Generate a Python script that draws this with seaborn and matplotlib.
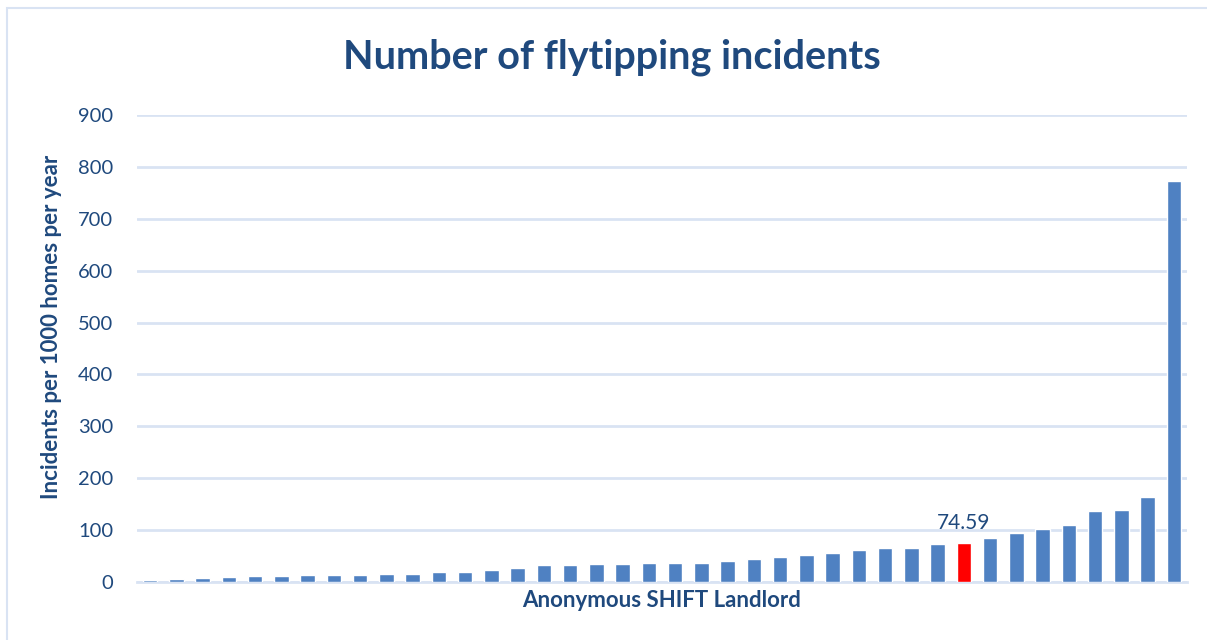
import pandas as pd
import matplotlib.pyplot as plt
import seaborn as sns
from matplotlib.patches import Rectangle

# Incidents per 1000 homes per year, one value per anonymous landlord (sorted)
landlords = [f"L{i + 1}" for i in range(40)]
incidents = [3.2, 5.1, 7.1, 9.0, 10.9, 10.9, 12.8, 12.8, 12.8, 14.8,
             14.8, 18.6, 18.6, 22.5, 26.3, 32.0, 32.0, 34.0, 34.0, 36.0,
             36.0, 36.0, 39.8, 43.7, 47.5, 51.4, 55.2, 61.0, 64.9, 64.9,
             74.0, 74.59, 84.0, 94.0, 101.5, 109.0, 136.0, 138.0, 163.0, 772.0]
highlight = "L32"
highlight_label = "74.59"
y_ticks = [0, 100, 200, 300, 400, 500, 600, 700, 800, 900]

navy = "#1F497D"
grid_col = "#D9E3F3"

sns.set_style("white")
plt.rcParams["font.family"] = ["Lato", "DejaVu Sans"]

data = pd.DataFrame({"Landlord": landlords, "Incidents": incidents})
data["Group"] = ["Highlight" if l == highlight else "Other" for l in data["Landlord"]]

fig = plt.figure(figsize=(12.07, 6.4), dpi=100)
ax = fig.add_axes([0.1135, 0.0906, 0.8700, 0.7297])

sns.barplot(
    data=data,
    x="Landlord",
    y="Incidents",
    hue="Group",
    palette={"Highlight": "#FF0000", "Other": "#4F81C2"},
    dodge=False,
    width=0.55,
    saturation=1,
    legend=False,
    ax=ax,
    zorder=3,
)

ax.set_xlim(-0.5, len(landlords) - 0.5)
ax.set_ylim(0, 900)
ax.set_yticks(y_ticks)
ax.yaxis.grid(True, color=grid_col, linewidth=2, zorder=0)
ax.set_axisbelow(True)
for s in ["top", "right", "left"]:
    ax.spines[s].set_visible(False)
ax.spines["bottom"].set_color(grid_col)
ax.spines["bottom"].set_linewidth(2)
ax.spines["bottom"].set_zorder(1)

ax.set_xticks([])
ax.tick_params(axis="y", length=0, labelsize=14.5, labelcolor=navy, pad=17)

ax.set_xlabel("Anonymous SHIFT Landlord", fontsize=16, fontweight="bold", color=navy, labelpad=6)
ax.set_ylabel("Incidents per 1000 homes per year", fontsize=16, fontweight="bold", color=navy)
ax.yaxis.set_label_coords(-0.071, 0.546)

hi = landlords.index(highlight)
ax.text(hi, incidents[hi] + 20, highlight_label, ha="center", va="bottom", fontsize=15, color=navy)

fig.suptitle("Number of flytipping incidents", x=0.507, y=0.911, va="center",
             fontsize=28.5, fontweight="bold", color=navy)

# light frame around the chart, as in the exported image
fig.patches.append(Rectangle((7 / 1207, -0.05), 1.2, (640 - 8) / 640 + 0.05,
                             transform=fig.transFigure, fill=False,
                             edgecolor=grid_col, linewidth=1.5))

fig.savefig("out.png", dpi=100)
